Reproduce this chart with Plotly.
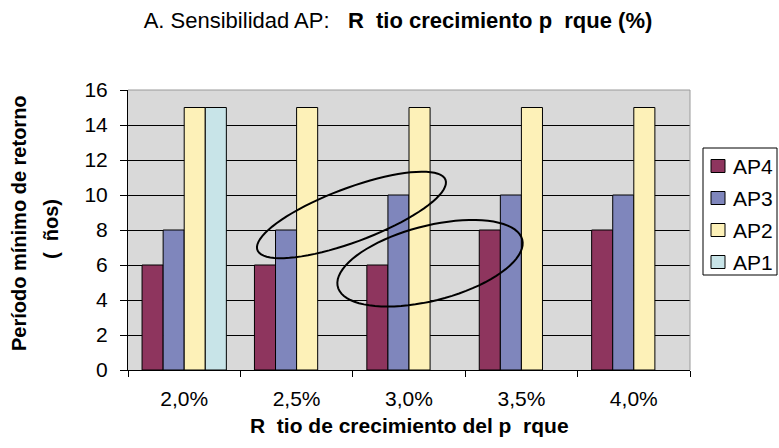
import numpy as np
import plotly.graph_objects as go

# datos
categorias = ["2,0%", "2,5%", "3,0%", "3,5%", "4,0%"]
ap4 = [6, 6, 6, 8, 8]
ap3 = [8, 8, 10, 10, 10]
ap2 = [15, 15, 15, 15, 15]
ap1 = [15, None, None, None, None]

series = [("AP4", ap4, "#8E355E"), ("AP3", ap3, "#7F86BC"),
          ("AP2", ap2, "#FDF1B8"), ("AP1", ap1, "#C8E4E8")]

W, H = 779, 448
ML, MR, MT, MB = 128, 89, 90, 78
pw, ph = W - ML - MR, H - MT - MB
ymax = 16

FONT = "Liberation Sans, Arial, sans-serif"


def px_x(p):
    return (p - ML) / pw


def px_y(p):
    return (H - MB - p) / ph


fig = go.Figure()
for nombre, vals, col in series:
    fig.add_trace(go.Bar(x=categorias, y=vals, name=nombre, marker_color=col,
                         marker_line=dict(color="black", width=1),
                         showlegend=False, hoverinfo="skip"))


def elipse(cx, cy, a, b, ang):
    # elipse dibujada a mano en la imagen original: ejes en pixeles, centro en datos
    t = np.linspace(0, 2 * np.pi, 80)
    th = np.radians(ang)
    dx = a * np.cos(t) * np.cos(th) - b * np.sin(t) * np.sin(th)
    dy = a * np.cos(t) * np.sin(th) + b * np.sin(t) * np.cos(th)
    xs = cx + dx / (pw / len(categorias))
    ys = cy + dy / (ph / ymax)
    p = "M" + " L".join(f"{x:.4f},{y:.4f}" for x, y in zip(xs, ys)) + " Z"
    return dict(type="path", path=p, xref="x", yref="y",
                line=dict(color="black", width=2), layer="above")


shapes = [
    elipse(1.488, 8.86, 100.4, 26.9, 20.5),
    elipse(2.187, 6.10, 95.2, 37.4, 14.4),
    dict(type="line", xref="paper", yref="paper", x0=0, x1=1, y0=1, y1=1,
         line=dict(color="#9a9a9a", width=1), layer="above"),
    dict(type="line", xref="paper", yref="paper", x0=1, x1=1, y0=0, y1=1,
         line=dict(color="#9a9a9a", width=1), layer="above"),
]

annotations = [
    dict(text="<b>R\u00a0\u00a0tio de crecimiento del p\u00a0\u00a0rque</b>",
         x=0.5, y=px_y(425), xref="paper", yref="paper",
         xanchor="center", yanchor="middle", showarrow=False,
         font=dict(size=21)),
    dict(text="<b>Período mínimo de retorno</b>", textangle=-90,
         x=px_x(19), y=px_y(223), xref="paper", yref="paper",
         xanchor="center", yanchor="middle", showarrow=False,
         font=dict(size=20)),
    dict(text="<b>(\u00a0\u00a0ños)</b>", textangle=-90,
         x=px_x(51), y=px_y(229), xref="paper", yref="paper",
         xanchor="center", yanchor="middle", showarrow=False,
         font=dict(size=20)),
]

# leyenda como en Excel: recuadro, muestras y textos
shapes.append(dict(type="rect", xref="paper", yref="paper",
                   x0=px_x(703), x1=px_x(777), y0=px_y(148), y1=px_y(275),
                   line=dict(color="black", width=1), fillcolor="white"))
for i, (nombre, vals, col) in enumerate(series):
    yc = 166 + 32 * i
    shapes.append(dict(type="rect", xref="paper", yref="paper",
                       x0=px_x(711), x1=px_x(725), y0=px_y(yc - 6.5), y1=px_y(yc + 6.5),
                       line=dict(color="black", width=1), fillcolor=col))
    annotations.append(dict(text=nombre, x=px_x(731), y=px_y(yc), xref="paper", yref="paper",
                            xanchor="left", yanchor="middle", showarrow=False,
                            font=dict(size=21)))

fig.update_layout(
    width=W, height=H,
    margin=dict(l=ML, r=MR, t=MT, b=MB, autoexpand=False),
    paper_bgcolor="white", plot_bgcolor="#D9D9D9",
    font=dict(family=FONT, color="black", size=20),
    barmode="group", bargap=0.25, bargroupgap=0,
    title=dict(text="A. Sensibilidad AP:\u00a0\u00a0\u00a0<b>R\u00a0\u00a0tio crecimiento p\u00a0\u00a0rque (%)</b>",
               x=398 / W, xanchor="center", xref="container",
               y=1 - 20 / H, yanchor="middle", yref="container",
               font=dict(size=22)),
    xaxis=dict(type="category", showline=True, linecolor="black", linewidth=1,
               ticks="outside", ticklen=6, tickcolor="black", tickson="boundaries",
               tickfont=dict(size=21), showgrid=False, ticklabelstandoff=10,
               range=[-0.5, 4.5]),
    yaxis=dict(range=[0, ymax], dtick=2, showline=True, linecolor="black", linewidth=1,
               ticks="outside", ticklen=7, tickcolor="black",
               tickfont=dict(size=21), gridcolor="black", gridwidth=1,
               zeroline=False, ticklabelstandoff=8),
    shapes=shapes,
    annotations=annotations,
    showlegend=False,
)

# quitar el margen por defecto del <body> para que la figura empiece en (0, 0)
fig.write_html("out.html", config={"displayModeBar": False},
               post_script="document.body.style.margin='0';")
